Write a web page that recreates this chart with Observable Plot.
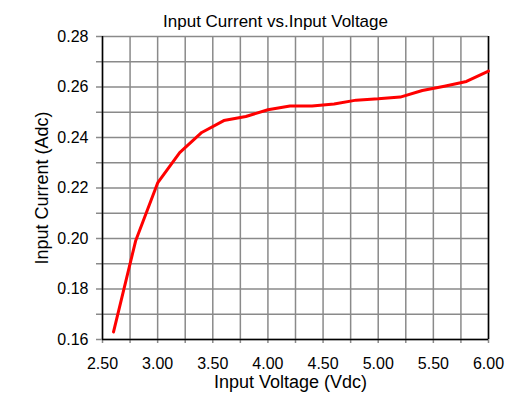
<!DOCTYPE html>
<html>
<head>
<meta charset="utf-8">
<script src="https://cdn.jsdelivr.net/npm/d3@7"></script>
<script src="https://cdn.jsdelivr.net/npm/@observablehq/plot@0.6"></script>
<style>
  html, body { margin: 0; padding: 0; background: #fff; }
  svg { font-family: "Liberation Sans", Arial, sans-serif; }
</style>
</head>
<body>
<div id="chart"></div>
<script>
const title = "Input Current vs.Input Voltage";
const xLabel = "Input Voltage (Vdc)";
const yLabel = "Input Current (Adc)";
const voltage = [2.6, 2.8, 3.0, 3.2, 3.4, 3.6, 3.8, 4.0, 4.2, 4.4, 4.6, 4.8, 5.0, 5.2, 5.4, 5.6, 5.8, 6.0];
const current = [0.163, 0.199, 0.222, 0.234, 0.242, 0.2467, 0.2483, 0.251, 0.2525, 0.2525, 0.2533, 0.2548, 0.2553, 0.256, 0.2586, 0.2603, 0.2622, 0.2663];
const xTicks = [2.5, 2.75, 3.0, 3.25, 3.5, 3.75, 4.0, 4.25, 4.5, 4.75, 5.0, 5.25, 5.5, 5.75, 6.0];
const yTicks = [0.16, 0.17, 0.18, 0.19, 0.20, 0.21, 0.22, 0.23, 0.24, 0.25, 0.26, 0.27, 0.28];

const data = voltage.map((v, i) => ({v, c: current[i]}));
const grid = "#8a8a8a";

const chart = Plot.plot({
  width: 519,
  height: 397,
  marginLeft: 102,
  marginRight: 31,
  marginTop: 36,
  marginBottom: 58,
  style: {fontFamily: "'Liberation Sans', Arial, sans-serif", background: "#fff", color: "#000"},
  x: {domain: [2.5, 6.0], label: null},
  y: {domain: [0.16, 0.28], label: null},
  marks: [
    Plot.ruleX(xTicks, {stroke: grid, strokeWidth: 1.5}),
    Plot.ruleY(yTicks, {stroke: grid, strokeWidth: 1.5}),
    Plot.axisX({
      ticks: xTicks, tickSize: 4, tickPadding: 14, stroke: grid, strokeWidth: 1.5,
      fontSize: 16, fill: "#000",
      tickFormat: d => (Math.round(d * 4) % 2 === 0 ? d.toFixed(2) : ""),
      label: null
    }),
    Plot.axisY({
      ticks: yTicks, tickSize: 6, tickPadding: 8, stroke: grid, strokeWidth: 1.5,
      fontSize: 16, fill: "#000",
      tickFormat: d => (Math.round(d * 100) % 2 === 0 ? d.toFixed(2) : ""),
      label: null
    }),
    Plot.ruleX([2.5, 6.0], {stroke: "#000", strokeWidth: 1.5}),
    Plot.ruleY([0.16], {stroke: "#000", strokeWidth: 1.5}),
    Plot.line(data, {x: "v", y: "c", stroke: "#ff0000", strokeWidth: 3}),
    Plot.text([title], {frameAnchor: "top", dy: -22, dx: -20, fontSize: 17, fill: "#000"}),
    Plot.text([xLabel], {frameAnchor: "bottom", dy: 48, dx: -5, fontSize: 18, fill: "#000"}),
    Plot.text([yLabel], {frameAnchor: "left", textAnchor: "middle", dx: -60, rotate: -90, fontSize: 18, fill: "#000"})
  ]
});
document.getElementById("chart").appendChild(chart);
</script>
</body>
</html>
